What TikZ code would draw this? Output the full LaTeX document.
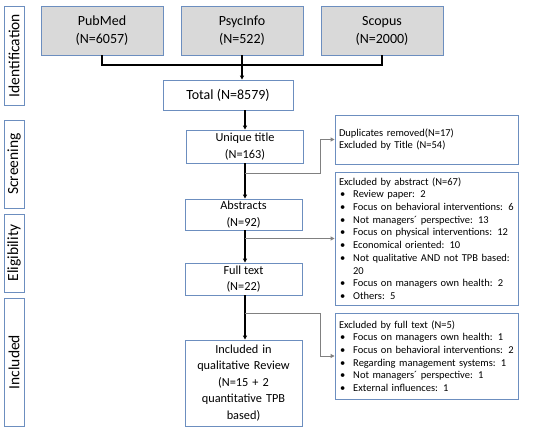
\documentclass[tikz,border=0pt]{standalone}
\usepackage{fontspec}
\setmainfont{Carlito}
\usetikzlibrary{arrows.meta,calc}
\definecolor{bordc}{HTML}{6C8EBF}
\definecolor{fillg}{HTML}{D9D9D9}
\definecolor{lineg}{HTML}{808080}
\tikzset{
  box/.style={draw=bordc, line width=0.9pt, align=center, inner sep=1pt},
  srcbox/.style={box, fill=fillg, minimum width=122pt, minimum height=49pt, font=\fontsize{14}{18}\selectfont},
  midbox/.style={box, minimum width=117pt, font=\fontsize{12.3}{16.5}\selectfont},
  sidebox/.style={box, minimum width=183pt, align=left, text width=175pt, font=\fontsize{10.5}{12.7}\selectfont, anchor=center},
  labbox/.style={box, rotate=90, minimum height=20pt, font=\fontsize{15.5}{18}\selectfont, inner sep=0pt},
  blk/.style={line width=1.1pt, draw=black},
  blkarr/.style={blk, -{Triangle[length=4pt,width=4pt]}},
  gryarr/.style={line width=0.9pt, draw=lineg, -{Triangle[length=4pt,width=4pt]}},
}
\newcommand{\bul}{\textbullet\hspace{8pt}}
\begin{document}
\begin{tikzpicture}[x=1pt,y=-1pt]
\useasboundingbox[fill=white] (0,0) rectangle (550,431);
% stage labels
\node[labbox, minimum width=99pt] (lid) at (14,55.5) {Identification};
\node[labbox, minimum width=88pt] (lsc) at (14,164) {Screening};
\node[labbox, minimum width=78pt] (lel) at (14,253) {Eligibility};
\node[labbox, minimum width=128pt] (lin) at (14,362) {Included};
% sources
\node[srcbox] (pub) at (102,30.5) {PubMed\\(N=6057)};
\node[srcbox] (psy) at (242,30.5) {PsycInfo\\(N=522)};
\node[srcbox] (sco) at (382,30.5) {Scopus\\(N=2000)};
\node[box, minimum width=130pt, minimum height=30pt, font=\fontsize{14}{18}\selectfont] (tot) at (228,95) {Total (N=8579)};
% main column
\node[midbox, minimum height=33pt] (ut) at (245,146.5) {Unique title\\(N=163)};
\node[midbox, minimum height=31pt] (abs) at (243.5,214.5) {Abstracts\\(N=92)};
\node[midbox, minimum height=32pt] (ft) at (243.5,279) {Full text\\(N=22)};
\node[midbox, minimum height=86pt, text width=112pt] (inc) at (243.5,383) {Included in\\qualitative Review\\(N=15 + 2\\quantitative TPB\\based)};
% side boxes
\node[sidebox, minimum height=49pt] (r1) at (426.5,139.5) {Duplicates removed(N=17)\\Excluded by Title (N=54)};
\node[sidebox, minimum height=133pt] (r2) at (426.5,238.5) {Excluded by abstract (N=67)\\
\hspace*{1pt}\bul Review paper: 2\\
\hspace*{1pt}\bul Focus on behavioral interventions: 6\\
\hspace*{1pt}\bul Not managers\textasciiacute\ perspective: 13\\
\hspace*{1pt}\bul Focus on physical interventions: 12\\
\hspace*{1pt}\bul Economical oriented: 10\\
\hspace*{1pt}\bul Not qualitative AND not TPB based:\\
\hspace*{14pt}20\\
\hspace*{1pt}\bul Focus on managers own health: 2\\
\hspace*{1pt}\bul Others: 5};
\node[sidebox, minimum height=86pt] (r3) at (426.5,356) {Excluded by full text (N=5)\\
\hspace*{1pt}\bul Focus on managers own health: 1\\
\hspace*{1pt}\bul Focus on behavioral interventions: 2\\
\hspace*{1pt}\bul Regarding management systems: 1\\
\hspace*{1pt}\bul Not managers\textasciiacute\ perspective: 1\\
\hspace*{1pt}\bul External influences: 1};
% connectors top
\coordinate (j) at (242,65);
\draw[blk] (pub.south) |- (j) -| (sco.south);
\draw[blkarr] (psy.south) -- (tot.north -| psy.south);
\draw[blkarr] (tot.south -| ut.north) -- (ut.north);
\draw[blkarr] (ut.south) -- (abs.north -| ut.south);
\draw[blkarr] (abs.south -| ut.south) -- (ft.north -| ut.south);
\draw[blkarr] (ft.south -| ut.south) -- (inc.north -| ut.south);
% gray side connectors
\coordinate (b1) at (245,173);
\coordinate (k1) at (320,139.5);
\draw[gryarr] (b1) -| (k1) -- (r1.west);
\coordinate (b2) at (245,238.5);
\draw[gryarr] (b2) -- (r2.west);
\coordinate (b3) at (245,313);
\coordinate (k3) at (320,356);
\draw[gryarr] (b3) -| (k3) -- (r3.west);
\end{tikzpicture}
\end{document}
